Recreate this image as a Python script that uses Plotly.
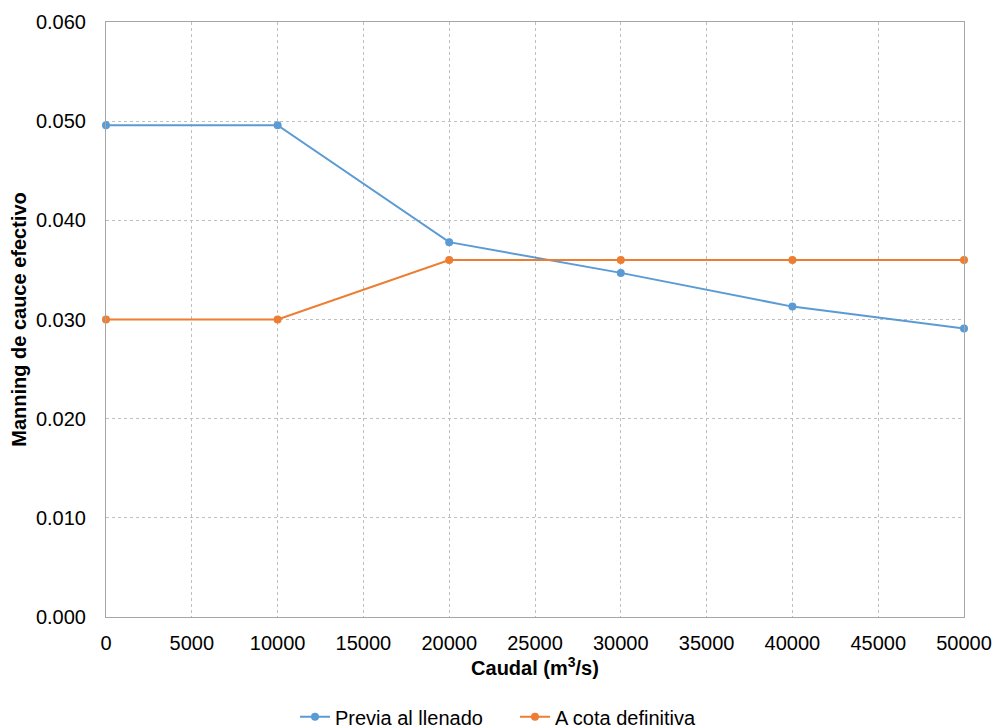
import plotly.graph_objects as go

caudal = [0, 10000, 20000, 30000, 40000, 50000]
previa_llenado = [0.0496, 0.0496, 0.0378, 0.0347, 0.0313, 0.0291]
cota_definitiva = [0.030, 0.030, 0.036, 0.036, 0.036, 0.036]

AZUL = "#5B9BD5"
NARANJA = "#ED7D31"
FUENTE = "Liberation Sans, Arial, sans-serif"

fig = go.Figure()
fig.add_trace(go.Scatter(
    x=caudal, y=previa_llenado, name="Previa al llenado", mode="lines+markers",
    line=dict(color=AZUL, width=2), marker=dict(color=AZUL, size=8), cliponaxis=False,
))
fig.add_trace(go.Scatter(
    x=caudal, y=cota_definitiva, name="A cota definitiva", mode="lines+markers",
    line=dict(color=NARANJA, width=2), marker=dict(color=NARANJA, size=8), cliponaxis=False,
))

fig.update_layout(
    width=1000, height=727,
    margin=dict(l=98, r=44, t=14, b=118),
    paper_bgcolor="white", plot_bgcolor="white",
    font=dict(family=FUENTE, size=20, color="black"),
    showlegend=True,
    legend=dict(orientation="h", xref="container", yref="container",
                x=0.507, xanchor="center", y=0.025, yanchor="middle",
                font=dict(size=20), itemwidth=30, entrywidth=175),
    xaxis=dict(
        range=[0, 50000], dtick=5000, tickformat="d", ticklabelstandoff=8,
        title=dict(text="<b>Caudal (m<sup>3</sup>/s)</b>", font=dict(size=20), standoff=7),
        showgrid=True, gridcolor="#BFBFBF", griddash="3px,3px", gridwidth=1,
        showline=True, linecolor="#A6A6A6", linewidth=1, mirror=True,
        zeroline=False, ticks="", automargin=False,
    ),
    yaxis=dict(
        range=[0, 0.06], dtick=0.01, tickformat=".3f", ticklabelstandoff=15,
        title=dict(text="<b>Manning de cauce efectivo</b>", font=dict(size=20), standoff=8),
        showgrid=True, gridcolor="#BFBFBF", griddash="3px,3px", gridwidth=1,
        showline=True, linecolor="#A6A6A6", linewidth=1, mirror=True,
        zeroline=False, ticks="", automargin=False,
    ),
)

fig.write_html("out.html")
